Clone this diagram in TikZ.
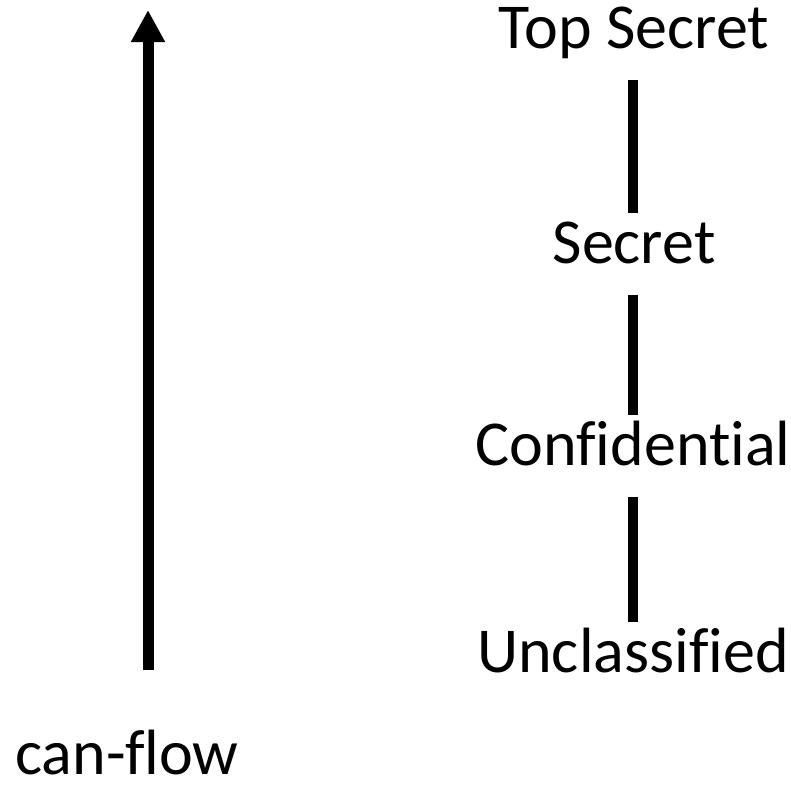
\documentclass[tikz,border=0pt]{standalone}
\usepackage{fontspec}
\setmainfont[Ligatures=CommonOff]{Carlito}
\usetikzlibrary{arrows.meta}
\tikzset{
  level/.style={anchor=base,inner sep=0pt,text height=25pt,text depth=16pt,
    font=\fontsize{32}{38}\selectfont},
  levelline/.style={line width=5pt},
  flowarrow/.style={line width=5.5pt,-{Triangle[width=16pt,length=16pt]}}
}
\begin{document}
\begin{tikzpicture}[line join=miter,x=0.5pt,y=-0.5pt]
\useasboundingbox (0,0) rectangle (791,789);
% security levels
\node[level] (ts) at (634,48) {Top Secret};
\node[level] (sec) at (634,263) {Secret};
\node[level] (conf) at (633,465) {Confidential};
\node[level] (uncl) at (633,672) {Unclassified};
\foreach \a/\b in {ts/sec,sec/conf,conf/uncl}
\draw[levelline] (\a.south-|633,0) -- (\b.north-|633,0);
% flow direction
\coordinate (flowfoot) at (148,670);
\coordinate (flowtip) at (148,10);
\draw[flowarrow] (flowfoot) -- (flowtip);
\node[level,text depth=0pt] (canflow) at (127,774) {can-flow};
\end{tikzpicture}
\end{document}
